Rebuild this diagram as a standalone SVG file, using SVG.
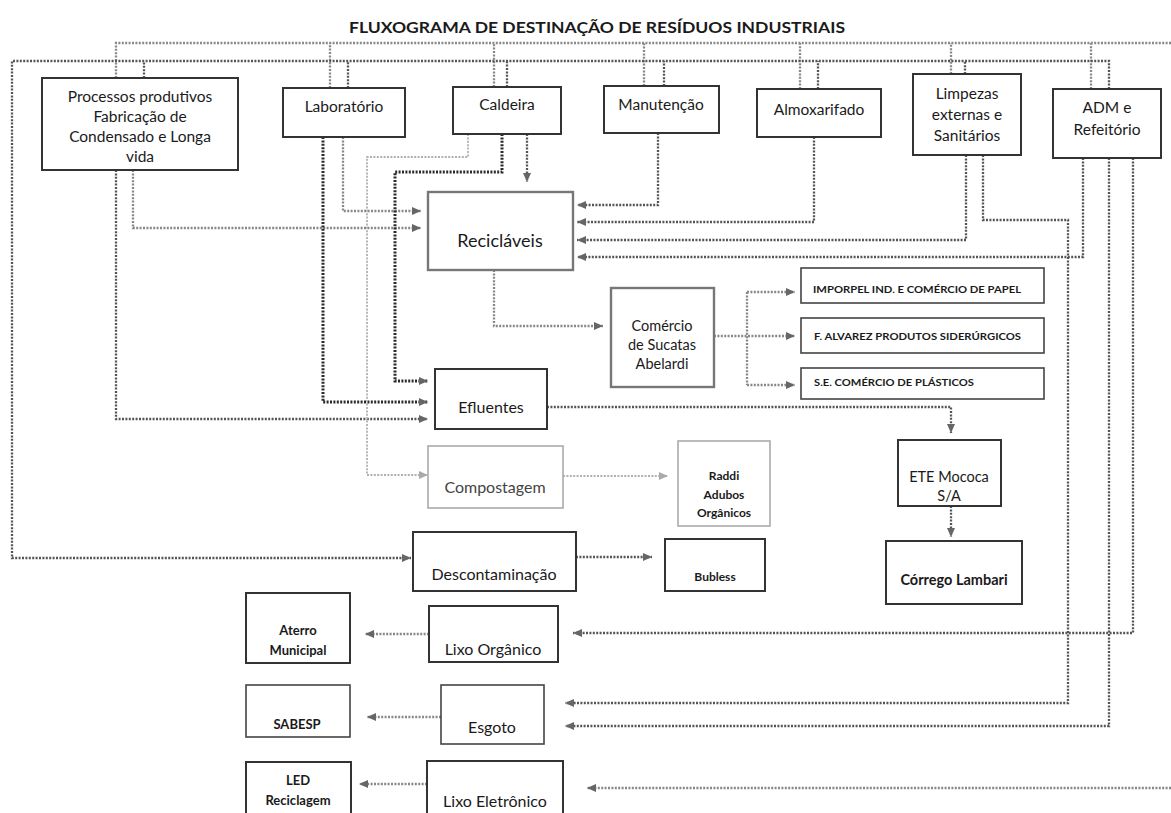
<svg xmlns="http://www.w3.org/2000/svg" width="1171" height="813" viewBox="0 0 1171 813">
  <defs>
    <marker id="arr" viewBox="0 0 9 8" refX="9" refY="4" markerWidth="9" markerHeight="8" markerUnits="userSpaceOnUse" orient="auto">
      <path d="M0,0 L9,4 L0,8 z" fill="#666"/>
    </marker>
    <marker id="arrL" viewBox="0 0 9 8" refX="9" refY="4" markerWidth="9" markerHeight="8" markerUnits="userSpaceOnUse" orient="auto">
      <path d="M0,0 L9,4 L0,8 z" fill="#aaa"/>
    </marker>
    <style>
      text { font-family: Lato, "Liberation Sans", sans-serif; fill: #1a1a1a; text-anchor: middle; }
      .title { font-weight: bold; font-size: 15px; }
      .n { font-size: 15.5px; }
      .s { font-size: 14.5px; }
      .m { font-size: 16px; }
      .b { font-weight: bold; font-size: 12px; }
      .bl { font-weight: bold; font-size: 13px; }
      .bs { font-weight: bold; font-size: 9px; text-anchor: start; }
      .box { fill: #fff; stroke: #333; stroke-width: 2; }
      .thin { stroke-width: 1.6; stroke: #444; }
      .pale { stroke: #aaa; stroke-width: 1.6; }
      .grey { stroke: #777; stroke-width: 2.4; }
      .c { fill: none; stroke: #555; stroke-width: 2.3; stroke-dasharray: 2 1.4; }
      .ca { marker-end: url(#arr); }
      .a { stroke: #888; }
      .dk { stroke: #2a2a2a; stroke-width: 3; }
      .lg { stroke: #b0b0b0; stroke-width: 1.8; marker-end: url(#arrL); }
    </style>
  </defs>

  <rect width="1171" height="813" fill="#fff"/>

  <text class="title" x="597" y="33" textLength="496" lengthAdjust="spacingAndGlyphs">FLUXOGRAMA DE DESTINAÇÃO DE RESÍDUOS INDUSTRIAIS</text>

  <!-- connectors -->
  <g id="connectors">
    <!-- upper collector line and its drops -->
    <path class="c a" d="M116,78 V43 H1171"/>
    <path class="c a" d="M330,88 V43 M494,87 V43 M644,86 V43 M800,89 V43 M951,74 V43 M1091,89 V43"/>
    <!-- second collector line, running round the left to Descontaminação -->
    <path class="c ca" d="M1109,89 V61 H12 V558 H411"/>
    <path class="c" d="M144,78 V61 M348,88 V61 M507,87 V61 M664,86 V61 M818,89 V61 M965,74 V61"/>

    <!-- Processos produtivos -->
    <path class="c ca" d="M116,170 V419 H428"/>
    <path class="c ca a" d="M133,170 V228 H421"/>
    <!-- Laboratório -->
    <path class="c ca a" d="M343,137 V211 H421"/>
    <path class="c ca dk" d="M323,137 V402 H428"/>
    <!-- Caldeira -->
    <path class="c ca dk" d="M502,134 V172 H395 V381 H428"/>
    <path class="c lg" d="M468,134 V157 H367 V475 H428"/>
    <path class="c ca" d="M527,134 V182"/>
    <!-- Manutenção, Almoxarifado, Limpezas, ADM to Recicláveis -->
    <path class="c ca" d="M658,133 V205 H577"/>
    <path class="c ca" d="M814,137 V222 H577"/>
    <path class="c ca" d="M966,155 V240 H577"/>
    <path class="c ca" d="M1083,158 V257 H577"/>
    <!-- Limpezas and ADM to Esgoto -->
    <path class="c ca" d="M983,155 V220 H1068 V703 H565"/>
    <path class="c ca" d="M1109,158 V726 H565"/>
    <!-- ADM to Lixo Orgânico -->
    <path class="c ca" d="M1133,158 V633 H573"/>
    <!-- incoming to Lixo Eletrônico -->
    <path class="c ca a" d="M1171,788 H587"/>

    <!-- Recicláveis to Comércio de Sucatas -->
    <path class="c ca a" d="M494,270 V326 H603"/>
    <!-- Comércio to buyers -->
    <path class="c ca a" d="M714,336 H795"/>
    <path class="c a" d="M747,292 V385"/>
    <path class="c ca a" d="M747,292 H795"/>
    <path class="c ca a" d="M747,385 H795"/>

    <!-- Efluentes to ETE, ETE to Córrego -->
    <path class="c ca" d="M547,407 H951 V433"/>
    <path class="c ca" d="M951,506 V537"/>
    <!-- Compostagem to Raddi -->
    <path class="c lg" d="M563,476 H668"/>
    <!-- Descontaminação to Bubless -->
    <path class="c ca" d="M576,557 H652"/>
    <!-- outgoing to the left column -->
    <path class="c ca a" d="M429,634 H365"/>
    <path class="c ca a" d="M441,717 H367"/>
    <path class="c ca a" d="M427,784 H359"/>
  </g>

  <!-- sources -->
  <g id="processos">
    <rect class="box" x="42" y="78" width="196" height="92"/>
    <text class="n" x="140" y="102">Processos produtivos</text>
    <text class="n" x="140" y="122">Fabricação de</text>
    <text class="n" x="140" y="142">Condensado e Longa</text>
    <text class="n" x="140" y="162">vida</text>
  </g>
  <g id="laboratorio">
    <rect class="box" x="283" y="88" width="122" height="49"/>
    <text class="n" x="344" y="112">Laboratório</text>
  </g>
  <g id="caldeira">
    <rect class="box" x="453" y="87" width="108" height="47"/>
    <text class="n" x="507" y="110">Caldeira</text>
  </g>
  <g id="manutencao">
    <rect class="box" x="604" y="86" width="115" height="47"/>
    <text class="n" x="661" y="110">Manutenção</text>
  </g>
  <g id="almoxarifado">
    <rect class="box" x="757" y="89" width="124" height="48"/>
    <text class="n" x="819" y="115">Almoxarifado</text>
  </g>
  <g id="limpezas">
    <rect class="box" x="913" y="74" width="108" height="81"/>
    <text class="n" x="967" y="99">Limpezas</text>
    <text class="n" x="967" y="120">externas e</text>
    <text class="n" x="967" y="141">Sanitários</text>
  </g>
  <g id="adm">
    <rect class="box" x="1053" y="89" width="108" height="69"/>
    <text class="n" x="1107" y="113">ADM e</text>
    <text class="n" x="1107" y="135">Refeitório</text>
  </g>

  <!-- treatment / sorting -->
  <g id="reciclaveis">
    <rect class="box grey" x="428" y="192" width="145" height="78"/>
    <text x="500" y="247" style="font-size:18px">Recicláveis</text>
  </g>
  <g id="comercio">
    <rect class="box grey" x="611" y="288" width="103" height="99"/>
    <text class="s" x="662" y="331">Comércio</text>
    <text class="s" x="662" y="350">de Sucatas</text>
    <text class="s" x="662" y="369">Abelardi</text>
  </g>
  <g id="imporpel">
    <rect class="box thin" x="801" y="268" width="243" height="35"/>
    <text class="bs" x="813" y="293" textLength="208" lengthAdjust="spacingAndGlyphs">IMPORPEL IND. E COMÉRCIO DE PAPEL</text>
  </g>
  <g id="alvarez">
    <rect class="box thin" x="801" y="318" width="243" height="35"/>
    <text class="bs" x="814" y="340" textLength="207" lengthAdjust="spacingAndGlyphs">F. ALVAREZ PRODUTOS SIDERÚRGICOS</text>
  </g>
  <g id="se-plasticos">
    <rect class="box thin" x="801" y="368" width="243" height="31"/>
    <text class="bs" x="814" y="386" textLength="160" lengthAdjust="spacingAndGlyphs">S.E. COMÉRCIO DE PLÁSTICOS</text>
  </g>
  <g id="efluentes">
    <rect class="box" x="435" y="369" width="112" height="60"/>
    <text class="m" x="491" y="413">Efluentes</text>
  </g>
  <g id="ete">
    <rect class="box" x="898" y="440" width="103" height="66"/>
    <text class="s" x="949" y="482">ETE Mococa</text>
    <text class="s" x="949" y="501">S/A</text>
  </g>
  <g id="compostagem">
    <rect class="box pale" x="428" y="446" width="135" height="62"/>
    <text class="m" x="495" y="493" style="fill:#444">Compostagem</text>
  </g>
  <g id="raddi">
    <rect class="box pale" x="678" y="441" width="92" height="85"/>
    <text class="b" x="724" y="480">Raddi</text>
    <text class="b" x="724" y="499">Adubos</text>
    <text class="b" x="724" y="517">Orgânicos</text>
  </g>
  <g id="descontaminacao">
    <rect class="box" x="413" y="532" width="163" height="59"/>
    <text class="m" x="494" y="580">Descontaminação</text>
  </g>
  <g id="bubless">
    <rect class="box" x="665" y="539" width="100" height="52"/>
    <text class="b" x="715" y="581">Bubless</text>
  </g>
  <g id="corrego">
    <rect class="box" x="886" y="541" width="136" height="63"/>
    <text class="bl" style="font-size:14.5px" x="954" y="585">Córrego Lambari</text>
  </g>

  <!-- final destinations -->
  <g id="lixo-organico">
    <rect class="box" x="429" y="606" width="129" height="56"/>
    <text class="m" x="493" y="655">Lixo Orgânico</text>
  </g>
  <g id="aterro">
    <rect class="box" x="246" y="593" width="104" height="70"/>
    <text class="bl" x="298" y="635">Aterro</text>
    <text class="bl" x="298" y="655">Municipal</text>
  </g>
  <g id="esgoto">
    <rect class="box thin" x="441" y="685" width="103" height="59"/>
    <text class="m" x="492" y="733">Esgoto</text>
  </g>
  <g id="sabesp">
    <rect class="box thin" x="246" y="685" width="104" height="52"/>
    <text class="bl" x="297" y="729">SABESP</text>
  </g>
  <g id="lixo-eletronico">
    <rect class="box" x="427" y="761" width="136" height="60"/>
    <text class="m" x="495" y="807">Lixo Eletrônico</text>
  </g>
  <g id="led">
    <rect class="box" x="246" y="762" width="105" height="60"/>
    <text class="bl" x="298" y="785">LED</text>
    <text class="bl" x="298" y="805">Reciclagem</text>
  </g>
</svg>
